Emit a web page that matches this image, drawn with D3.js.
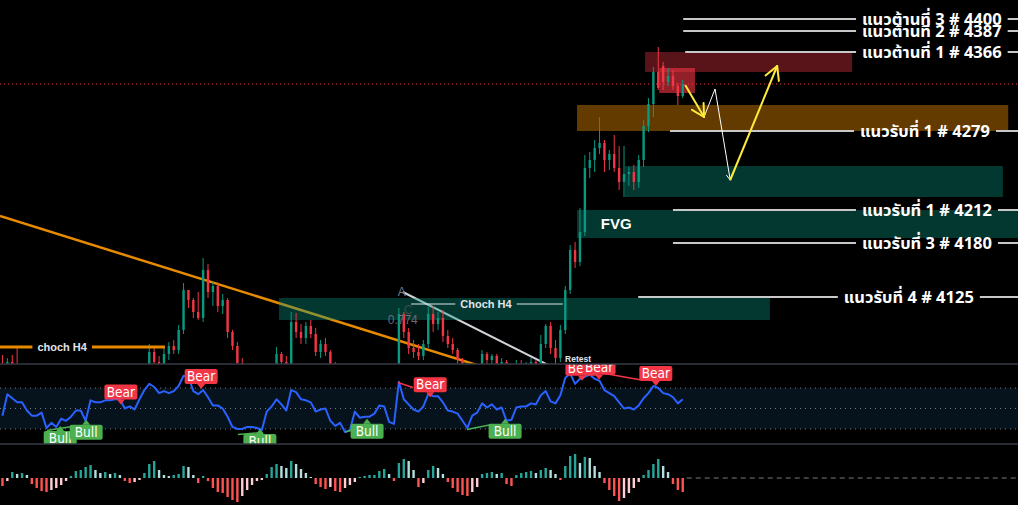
<!DOCTYPE html>
<html>
<head>
<meta charset="utf-8">
<script src="https://cdn.jsdelivr.net/npm/d3@7"></script>
<style>
  html, body { margin: 0; padding: 0; background: #000; overflow: hidden; }
  svg { display: block; }
</style>
</head>
<body>
<svg id="chart" width="1018" height="505"></svg>
<script>
// ---- candles (one bar ~ two original candles) ----
const opens = [4050,4040,4056,4042,4036,4040,4026,4020,4024,4028, 4004,4012,4000,4016,4010,4020,4030,4028,4014,4038,
  4034,4038,4042,4040,4046,4044,4030,4036,4030,4046, 4052,4066,4056,4050,4064,4072,4068,4088,4128,4118,
  4106,4100,4148,4126,4132,4112,4118,4086,4072,4055, 4040,4034,4038,4030,4026,4044,4048,4064,4056,4048,
  4096,4086,4080,4092,4084,4066,4074,4066,4054,4040, 4044,4030,4036,4050,4042,4044,4042,4048,4052,4046,
  4030,4026,4104,4086,4070,4066,4062,4074,4104,4094, 4100,4082,4074,4068,4058,4044,4034,4046,4050,4064,
  4058,4062,4054,4056,4042,4044,4054,4050,4052,4056, 4054,4074,4092,4070,4060,4088,4128,4168,4156,4186,
  4250,4258,4270,4275,4258,4264,4250,4236,4244,4246, 4236,4258,4292,4314,4346,4352,4336,4342,4332,4322];
const highs = [4063,4060,4063,4071,4046,4044,4032,4030,4034,4030, 4016,4014,4020,4020,4024,4034,4036,4030,4042,4044,
  4042,4046,4048,4050,4052,4046,4040,4038,4048,4054, 4074,4070,4062,4071,4076,4078,4093,4135,4128,4120,
  4126,4160,4154,4136,4136,4124,4120,4088,4076,4060, 4046,4042,4040,4036,4048,4052,4071,4066,4062,4106,
  4105,4094,4096,4098,4090,4078,4080,4068,4056,4048, 4046,4040,4054,4052,4048,4048,4050,4054,4054,4048,
  4036,4110,4106,4090,4078,4074,4078,4111,4112,4106, 4108,4088,4080,4070,4060,4048,4048,4054,4068,4066,
  4064,4064,4060,4058,4048,4058,4058,4056,4060,4058, 4083,4094,4096,4078,4093,4132,4173,4176,4210,4263,
  4266,4278,4301,4278,4268,4283,4272,4272,4251,4253, 4263,4298,4320,4351,4371,4356,4350,4348,4335,4338];
const lows = [4030,4030,4035,4030,4028,4022,4014,4012,4016,4000, 3998,3996,3998,4006,4006,4016,4022,4010,4012,4030,
  4028,4032,4034,4036,4038,4026,4026,4024,4028,4040, 4046,4050,4044,4046,4058,4064,4064,4084,4110,4100,
  4098,4096,4120,4112,4106,4104,4080,4068,4050,4036, 4028,4026,4022,4020,4024,4038,4044,4050,4042,4046,
  4080,4074,4074,4080,4062,4060,4062,4050,4036,4032, 4026,4026,4034,4038,4036,4038,4040,4044,4040,4026,
  4020,4022,4080,4064,4060,4058,4058,4070,4086,4088, 4076,4070,4064,4054,4040,4030,4032,4040,4046,4052,
  4052,4050,4048,4038,4036,4040,4046,4044,4046,4048, 4050,4070,4064,4054,4056,4084,4124,4150,4152,4182,
  4240,4246,4264,4246,4248,4246,4228,4221,4232,4228, 4230,4251,4286,4301,4328,4328,4332,4328,4313,4320];
const closes = [4040,4056,4042,4036,4040,4026,4020,4024,4028,4004, 4012,4000,4016,4010,4020,4030,4028,4014,4038,4034,
  4038,4042,4040,4046,4044,4030,4036,4030,4046,4052, 4066,4056,4050,4064,4072,4068,4088,4128,4118,4106,
  4100,4148,4126,4132,4112,4118,4086,4072,4055,4040, 4034,4038,4030,4026,4044,4048,4064,4056,4048,4096,
  4086,4080,4092,4084,4066,4074,4066,4054,4040,4044, 4030,4036,4050,4042,4044,4042,4048,4052,4046,4030,
  4026,4104,4086,4070,4066,4062,4074,4104,4094,4100, 4082,4074,4068,4058,4044,4034,4046,4050,4064,4058,
  4062,4054,4056,4042,4044,4054,4050,4052,4056,4054, 4074,4092,4070,4060,4088,4128,4168,4156,4186,4250,
  4258,4270,4275,4258,4264,4250,4236,4244,4246,4236, 4258,4292,4314,4346,4330,4336,4342,4332,4322,4334];

// ---- RSI pane ----
const rsiValues = [43,64,60,56,56,48,43,43,46,31, 36,32,40,38,42,48,48,38,58,56, 56,58,58,59,59,50,52,49,59,68,
  74,71,65,67,65,67,72,82,81,67, 64,68,61,53,53,50,42,32,30,30, 32,32,31,29,47,52,59,54,48,68,
  66,59,58,56,47,49,50,38,33,36, 27,29,47,41,42,42,45,53,52,37, 35,76,59,54,49,47,52,64,62,62,
  56,48,47,45,38,31,43,46,55,51, 54,49,51,38,39,51,52,52,55,54, 63,67,57,55,63,80,84,74,79,81,
  83,79,77,68,65,62,56,50,51,49, 53,60,65,72,70,65,64,61,55,59];
const rsiLevels = [70, 50, 30];

// divergence labels: bar, RSI value at the pointer, kind
const labelBars = [11.8, 17.1, 24.2, 40.6, 52.6, 74.5, 87.4, 102.7, 118.4, 121.9, 133.5];
const labelValues = [33, 39, 54, 69, 30, 40, 61, 40, 77, 78, 72];
const labelTypes = ['Bull','Bull','Bear','Bear','Bull','Bull','Bear','Bull','Bear','Bear','Bear'];

// divergence lines [bar, rsi] -> [bar, rsi]
const divFrom = [[9.1, 28.5], [48.1, 24.6], [70, 27], [94.9, 29.5], [80.8, 75.4], [120.7, 86]];
const divTo = [[14.2, 32.4], [53.2, 26.5], [72, 29.5], [100, 34.4], [83.9, 70.5], [130.3, 78]];
const divTypes = ['Bull','Bull','Bull','Bull','Bear','Bear'];

// ---- histogram pane ----
const histValues = [-8,-3,6,4,5,3,-6,-10,-13,-14, -12,-10,-7,-3,2,7,8,11,13,8, 5,6,4,5,3,-3,-5,-4,-2,5,
  14,17,8,3,2,3,4,12,11,3, -5,2,-3,-10,-14,-15,-19,-22,-24,-18, -12,-7,-3,-2,4,11,14,12,10,17,
  14,9,5,1,-6,-9,-11,-9,-13,-14, -10,-7,-4,1,2,3,3,7,9,4, -3,15,19,17,8,-9,-5,8,12,10,
  4,-4,-10,-14,-17,-18,-14,-9,4,5, 6,4,5,-6,-8,3,5,6,7,5, 8,10,8,4,-2,12,22,24,15,21,
  20,12,6,-5,-12,-18,-23,-20,-15,-10, -4,3,8,14,19,12,6,-6,-12,-14];

// ---- drawn levels and zones ----
const levelLabels = ['แนวต้านที่ 3 # 4400', 'แนวต้านที่ 2 # 4387', 'แนวต้านที่ 1 # 4366',
  'แนวรับที่ 1 # 4279', 'แนวรับที่ 1 # 4212', 'แนวรับที่ 3 # 4180', 'แนวรับที่ 4 # 4125'];
const levelPrices = [4399, 4387, 4366, 4287, 4208, 4175, 4121];
const levelFrom = [139.1, 139.1, 139.5, 136.4, 137.0, 137.0, 129.9];
const levelTextAt = [189.9, 189.9, 189.9, 188.5, 188.9, 188.9, 185.2];

const zoneBars = [[56.5, 156.8], [117.4, 207.5], [127.2, 204.4], [117.4, 205.5], [131.3, 173.6], [134.2, 141.5]];
const zonePrices = [[4120, 4098], [4208, 4180], [4252, 4221], [4313, 4287], [4366, 4346], [4350, 4325]];
const zoneKinds = ['teal', 'teal', 'teal', 'orange', 'red', 'redBox'];

const trendLine = [[-0.5, 4202], [110, 4033]];
const abLine = [[81.8, 4126], [111.5, 4053]];
const chochLow = {price: 4071, from: -0.5, to: 33.2, textAt: 12.2};
const chochHigh = {price: 4114, from: 83.5, to: 114.5, textAt: 98.8};
const lastPrice = 4334;

const yellowArrow1 = [[139.5, 4333], [143.35, 4301]];
const whitePath = [[143.35, 4301], [145.6, 4329], [148.7, 4238]];
const yellowArrow2 = [[148.7, 4238], [158.3, 4352]];

const W = 1018, H = 505;
const upColor = '#089981', downColor = '#f23645';

const svg = d3.select('#chart');
svg.append('rect').attr('width', W).attr('height', H).attr('fill', '#000');

// scales
const x = d3.scaleLinear().domain([-0.5, 207.5]).range([0, W]);
const yP = d3.scaleLinear().domain([4055, 4418]).range([363, 0]);
const yR = d3.scaleLinear().domain([30, 70]).range([429, 388]);
const yH = d3.scaleLinear().domain([-27, 34]).range([505, 444]);

const defs = svg.append('defs');
defs.append('clipPath').attr('id', 'clipMain').append('rect').attr('width', W).attr('height', 364);
defs.append('clipPath').attr('id', 'clipRsi').append('rect').attr('y', 364).attr('width', W).attr('height', 80);
defs.append('clipPath').attr('id', 'clipHist').append('rect').attr('y', 444).attr('width', W).attr('height', 61);

const thaiFont = "Tahoma, 'Noto Sans Thai', 'Noto Sans Thai UI', 'Loma', 'Garuda', 'DejaVu Sans', sans-serif";
const uiFont = "'Liberation Sans', Arial, sans-serif";

// ================= main pane =================
const main = svg.append('g').attr('clip-path', 'url(#clipMain)');
const lineP = d3.line().x(d => x(d[0])).y(d => yP(d[1]));

// last price dotted line
main.append('line')
  .attr('x1', 0).attr('x2', W)
  .attr('y1', yP(lastPrice)).attr('y2', yP(lastPrice))
  .attr('stroke', '#f23645').attr('stroke-width', 1).attr('stroke-dasharray', '1,3');

// trend lines (under the zones)
main.append('path').attr('d', lineP(trendLine))
  .attr('stroke', '#e68a00').attr('stroke-width', 2.5).attr('fill', 'none');
main.append('path').attr('d', lineP(abLine))
  .attr('stroke', '#d1d4dc').attr('stroke-width', 2).attr('fill', 'none');

// zones
const zoneFill = {
  teal: 'rgba(8,153,129,0.37)',
  orange: 'rgba(255,152,0,0.39)',
  red: 'rgba(242,54,69,0.37)',
  redBox: 'rgba(242,54,69,0.6)'
};
main.append('g').selectAll('rect')
  .data(zoneBars)
  .join('rect')
  .attr('x', d => x(d[0]))
  .attr('width', d => x(d[1]) - x(d[0]))
  .attr('y', (d, i) => yP(zonePrices[i][0]))
  .attr('height', (d, i) => yP(zonePrices[i][1]) - yP(zonePrices[i][0]))
  .attr('fill', (d, i) => zoneFill[zoneKinds[i]]);

// candles
const bars = closes.map((c, i) => ({i: i, o: opens[i], h: highs[i], l: lows[i], c: c}));
const candle = main.append('g').selectAll('g').data(bars).join('g');
candle.append('line')
  .attr('x1', d => x(d.i)).attr('x2', d => x(d.i))
  .attr('y1', d => yP(d.h)).attr('y2', d => yP(d.l))
  .attr('stroke', d => d.c >= d.o ? upColor : downColor)
  .attr('stroke-width', 1);
candle.append('rect')
  .attr('x', d => x(d.i) - 1.2)
  .attr('width', 2.4)
  .attr('y', d => yP(Math.max(d.o, d.c)))
  .attr('height', d => Math.max(1, Math.abs(yP(d.o) - yP(d.c))))
  .attr('fill', d => d.c >= d.o ? upColor : downColor);

// choch lines with text breaking the line
function chochLine(cfg, color, width, label, size) {
  const g = main.append('g');
  const t = g.append('text')
    .attr('x', x(cfg.textAt)).attr('y', yP(cfg.price))
    .attr('dy', '0.35em')
    .attr('text-anchor', 'middle')
    .attr('font-family', uiFont).attr('font-weight', 'bold')
    .attr('font-size', size).attr('fill', '#e0e3eb')
    .text(label);
  const w = t.node().getComputedTextLength();
  [[x(cfg.from), x(cfg.textAt) - w / 2 - 5], [x(cfg.textAt) + w / 2 + 5, x(cfg.to)]].forEach(s => {
    g.insert('line', 'text')
      .attr('x1', s[0]).attr('x2', s[1])
      .attr('y1', yP(cfg.price)).attr('y2', yP(cfg.price))
      .attr('stroke', color).attr('stroke-width', width);
  });
}
chochLine(chochLow, '#e68a00', 3, 'choch H4', 11);
chochLine(chochHigh, '#e0e3eb', 1, 'Choch H4', 11);

// small chart texts
main.append('text').attr('x', x(81.6)).attr('y', yP(4122)).attr('text-anchor', 'middle')
  .attr('font-family', uiFont).attr('font-size', 12).attr('fill', '#787b86').text('A');
main.append('text').attr('x', x(82.9)).attr('y', yP(4104)).attr('text-anchor', 'middle')
  .attr('font-family', uiFont).attr('font-size', 12).attr('fill', '#3d4a4a').text('C');
main.append('text').attr('x', x(81.8)).attr('y', yP(4094)).attr('text-anchor', 'middle')
  .attr('font-family', uiFont).attr('font-size', 12).attr('fill', '#6a6d78').text('0.774');
main.append('text').attr('x', x(117.6)).attr('y', yP(4056)).attr('text-anchor', 'middle')
  .attr('font-family', uiFont).attr('font-weight', 'bold').attr('font-size', 8.5).attr('fill', '#e0e3eb').text('Retest');
main.append('text').attr('x', x(125.4)).attr('y', yP(4194)).attr('dy', '0.35em').attr('text-anchor', 'middle')
  .attr('font-family', uiFont).attr('font-weight', 'bold').attr('font-size', 15).attr('fill', '#ffffff').text('FVG');

// support / resistance levels
levelPrices.forEach((p, i) => {
  const g = main.append('g');
  const t = g.append('text')
    .attr('x', x(levelTextAt[i])).attr('y', yP(p))
    .attr('dy', '0.36em')
    .attr('text-anchor', 'middle')
    .attr('font-family', thaiFont).attr('font-weight', 'bold')
    .attr('font-size', 16.5).attr('fill', '#ffffff')
    .text(levelLabels[i]);
  const w = t.node().getComputedTextLength();
  [[x(levelFrom[i]), x(levelTextAt[i]) - w / 2 - 6], [x(levelTextAt[i]) + w / 2 + 6, W]].forEach(s => {
    g.insert('line', 'text')
      .attr('x1', s[0]).attr('x2', s[1])
      .attr('y1', yP(p)).attr('y2', yP(p))
      .attr('stroke', '#c8c8c8').attr('stroke-width', 2);
  });
});

// arrows
function arrowHead(pts, color, len, width) {
  const a = pts[pts.length - 2], b = pts[pts.length - 1];
  const ax = x(a[0]), ay = yP(a[1]), bx = x(b[0]), by = yP(b[1]);
  const ang = Math.atan2(by - ay, bx - ax);
  [0.5, -0.5].forEach(s => {
    svg.append('line')
      .attr('x1', bx).attr('y1', by)
      .attr('x2', bx - len * Math.cos(ang + s)).attr('y2', by - len * Math.sin(ang + s))
      .attr('stroke', color).attr('stroke-width', width).attr('stroke-linecap', 'round');
  });
}
svg.append('path').attr('d', lineP(whitePath)).attr('stroke', '#ffffff').attr('stroke-width', 1).attr('fill', 'none');
arrowHead(whitePath, '#ffffff', 6, 1);
svg.append('path').attr('d', lineP(yellowArrow1)).attr('stroke', '#ffeb3b').attr('stroke-width', 2).attr('fill', 'none');
arrowHead(yellowArrow1, '#ffeb3b', 14, 2);
svg.append('path').attr('d', lineP(yellowArrow2)).attr('stroke', '#ffeb3b').attr('stroke-width', 2).attr('fill', 'none');
arrowHead(yellowArrow2, '#ffeb3b', 15, 2);

// ================= RSI pane =================
const rsi = svg.append('g').attr('clip-path', 'url(#clipRsi)');
rsi.append('rect')
  .attr('x', 0).attr('width', W)
  .attr('y', yR(70)).attr('height', yR(30) - yR(70))
  .attr('fill', '#06121c');
rsi.append('g').selectAll('line')
  .data(rsiLevels)
  .join('line')
  .attr('x1', 0).attr('x2', W)
  .attr('y1', d => yR(d)).attr('y2', d => yR(d))
  .attr('stroke', '#787b86').attr('stroke-width', 1).attr('stroke-dasharray', '1,4');

rsi.append('path')
  .datum(rsiValues)
  .attr('d', d3.line().x((d, i) => x(i)).y(d => yR(d)))
  .attr('stroke', '#2962ff').attr('stroke-width', 2).attr('fill', 'none')
  .attr('stroke-linejoin', 'round');

rsi.append('g').selectAll('line')
  .data(divFrom)
  .join('line')
  .attr('x1', d => x(d[0])).attr('y1', d => yR(d[1]))
  .attr('x2', (d, i) => x(divTo[i][0])).attr('y2', (d, i) => yR(divTo[i][1]))
  .attr('stroke', (d, i) => divTypes[i] === 'Bull' ? '#4caf50' : '#f23645')
  .attr('stroke-width', 1.5);

const lab = rsi.append('g').selectAll('g')
  .data(labelBars)
  .join('g')
  .attr('transform', (d, i) => `translate(${x(d)},${yR(labelValues[i])})`);
lab.append('path')
  .attr('d', (d, i) => labelTypes[i] === 'Bull' ? 'M0,0L-4,5L4,5Z' : 'M0,0L-4,-5L4,-5Z')
  .attr('fill', (d, i) => labelTypes[i] === 'Bull' ? '#4caf50' : '#f23645');
lab.append('rect')
  .attr('x', -16.5).attr('width', 33)
  .attr('y', (d, i) => labelTypes[i] === 'Bull' ? 5 : -20)
  .attr('height', 15).attr('rx', 2)
  .attr('fill', (d, i) => labelTypes[i] === 'Bull' ? '#4caf50' : '#f23645');
lab.append('text')
  .attr('y', (d, i) => labelTypes[i] === 'Bull' ? 12.5 : -12.5)
  .attr('dy', '0.35em')
  .attr('text-anchor', 'middle')
  .attr('font-family', "'Liberation Sans Narrow', 'DejaVu Sans Condensed', sans-serif")
  .attr('font-size', 13.5).attr('fill', '#ffffff')
  .text((d, i) => labelTypes[i]);

// ================= histogram pane =================
const hist = svg.append('g').attr('clip-path', 'url(#clipHist)');
hist.append('line')
  .attr('x1', x(histValues.length - 1) + 4).attr('x2', W)
  .attr('y1', yH(0)).attr('y2', yH(0))
  .attr('stroke', '#787b86').attr('stroke-width', 1).attr('stroke-dasharray', '5,4');
hist.append('g').selectAll('rect')
  .data(histValues)
  .join('rect')
  .attr('x', (d, i) => x(i) - 1.2)
  .attr('width', 2.4)
  .attr('y', d => yH(Math.max(0, d)))
  .attr('height', d => Math.abs(yH(d) - yH(0)))
  .attr('fill', (d, i) => {
    const prev = i > 0 ? histValues[i - 1] : d;
    if (d >= 0) return d >= prev ? '#26a69a' : '#b2dfdb';
    return d <= prev ? '#ff5252' : '#ffcdd2';
  });

// pane separators
[364, 444].forEach(yy => {
  svg.append('line')
    .attr('x1', 0).attr('x2', W)
    .attr('y1', yy).attr('y2', yy)
    .attr('stroke', '#363a45').attr('stroke-width', 1.5);
});
</script>
</body>
</html>
